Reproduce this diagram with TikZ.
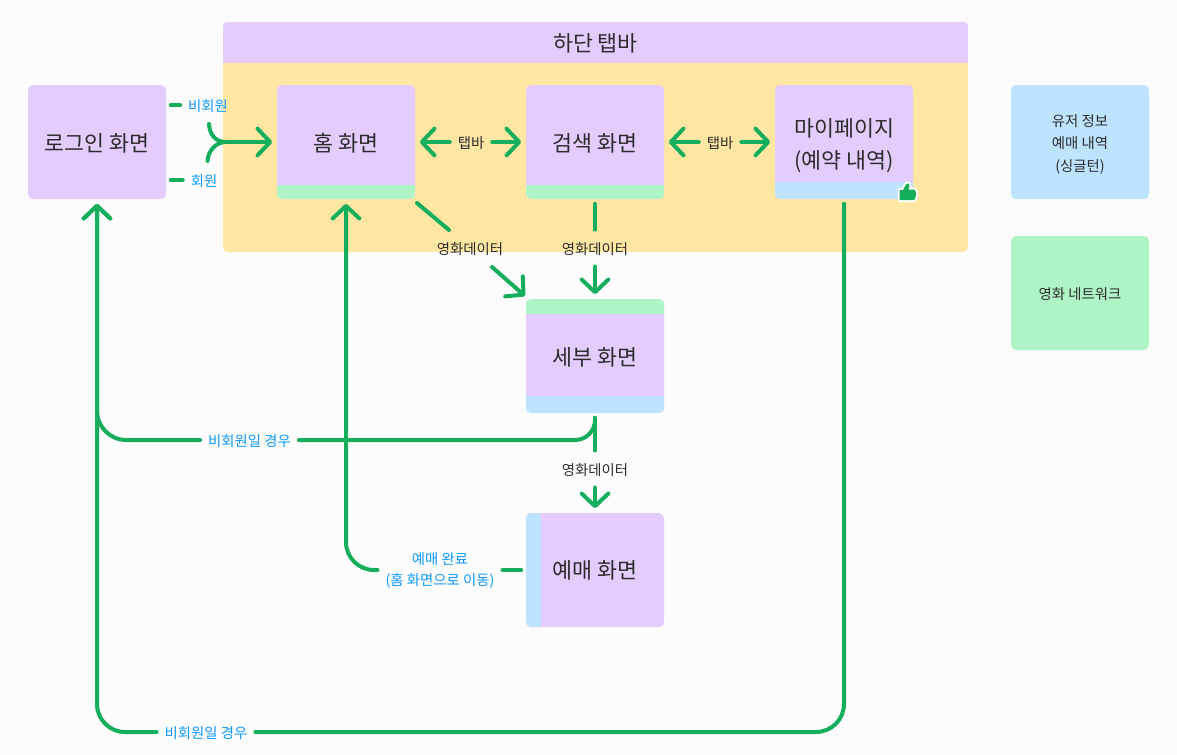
\documentclass[tikz,border=0pt]{standalone}
\usepackage{fontspec}
\setmainfont{Noto Sans CJK KR}
\usetikzlibrary{arrows.meta}
\definecolor{pagebg}{HTML}{FCFCFC}
\definecolor{violetbox}{HTML}{E4CCFF}
\definecolor{yellowbox}{HTML}{FFE6A3}
\definecolor{greenbox}{HTML}{AFF4C6}
\definecolor{bluebox}{HTML}{BDE3FF}
\definecolor{flowgreen}{HTML}{14AE5C}
\definecolor{labelblue}{HTML}{0D99FF}
\definecolor{inkdark}{HTML}{2C2C2C}
\tikzset{
  % the zero-width rule sets the height of the text box, and with it the level of the text
  levelled/.style={execute at begin node={\rule{0pt}{#1}}},
  levelled/.default=1em,
  screenbox/.style={rectangle,rounded corners=3.75pt,fill=violetbox,text=inkdark,levelled=.95em,
    minimum width=103.5pt,minimum height=85.5pt,inner sep=0pt,outer sep=3.6pt,align=center,
    font=\fontsize{16.3}{24}\selectfont},
  legendbox/.style={rectangle,rounded corners=3.75pt,text=inkdark,levelled,
    minimum width=103.5pt,minimum height=85.5pt,inner sep=0pt,align=center,
    font=\fontsize{10.8}{17}\selectfont},
  flow/.style={draw=flowgreen,line width=3pt,line cap=round,line join=round,rounded corners=21pt},
  flowarrow/.style={flow,-{Straight Barb[length=9.5pt,width=20pt,round]}},
  datalabel/.style={text=inkdark,levelled,inner xsep=6pt,inner ysep=8pt,outer sep=0pt,align=center,
    font=\fontsize{10.8}{16}\selectfont},
  userlabel/.style={datalabel,text=labelblue},
}
\begin{document}
\begin{tikzpicture}[x=0.75pt,y=-0.75pt]
\useasboundingbox (0,0) rectangle (1177,754);
\fill[pagebg] (0,0) rectangle (1177,754);

% Tab bar area with its header
\fill[yellowbox,rounded corners=3.75pt] (223,22) rectangle (968,252);
\begin{scope}
  \clip[rounded corners=3pt] (223,22) rectangle (968,80);
  \fill[violetbox] (223,22) rectangle (968,63);
\end{scope}
\node[text=inkdark,levelled=.95em,inner sep=0pt,font=\fontsize{16.3}{24}\selectfont] (tabbar) at (595.5,42) {하단 탭바};

% Screens
\node[screenbox] (login)   at (97,142)  {로그인 화면};
\node[screenbox] (home)    at (346,142) {홈 화면};
\node[screenbox] (search)  at (595,142) {검색 화면};
\node[screenbox,levelled=42.4pt] (mypage)  at (844,142) {마이페이지\\(예약 내역)};
\node[screenbox] (detail)  at (595,356) {세부 화면};
\node[screenbox] (booking) at (595,570) {};

% Coloured strips on the screens
\begin{scope}
  \clip[rounded corners=3.75pt] (277,85) rectangle (415,199);
  \fill[greenbox] (277,185) rectangle (415,199);
\end{scope}
\begin{scope}
  \clip[rounded corners=3.75pt] (526,85) rectangle (664,199);
  \fill[greenbox] (526,185) rectangle (664,199);
\end{scope}
\begin{scope}
  \clip[rounded corners=3.75pt] (775,85) rectangle (913,199);
  \fill[bluebox] (775,182) rectangle (913,199);
\end{scope}
\begin{scope}
  \clip[rounded corners=3.75pt] (526,299) rectangle (664,413);
  \fill[greenbox] (526,299) rectangle (664,314);
  \fill[bluebox] (526,396) rectangle (664,413);
\end{scope}
\begin{scope}
  \clip[rounded corners=3.75pt] (526,513) rectangle (664,627);
  \fill[bluebox] (526,513) rectangle (541,627);
\end{scope}
\node[text=inkdark,levelled=.95em,inner sep=0pt,font=\fontsize{16.3}{24}\selectfont] (bookingname) at (595,569) {예매 화면};

% Thumbs-up mark
\def\thumbshape{(899.5,190) -- (903,190) -- (906,184.5) .. controls (906.5,182.5) and (909.5,183) .. (909.5,185.5)
  -- (908.5,189.5) -- (914.5,189.5) .. controls (916.5,190) and (916.5,199.5) .. (914,200)
  -- (899.5,200) -- cycle}
\draw[white,line width=3pt,line join=round,fill=white] \thumbshape;
\fill[flowgreen] \thumbshape;

% Legend
\node[legendbox,fill=bluebox,levelled=46.3pt] (userinfo) at (1080,142) {유저 정보\\예매 내역\\(싱글턴)};
\node[legendbox,fill=greenbox] (network) at (1080,293) {영화 네트워크};

% Labels
\node[userlabel] (guest)  at (208,105) {비회원};
\node[userlabel] (member) at (204,180) {회원};
\node[datalabel] (tabA) at (471,142) {탭바};
\node[datalabel] (tabB) at (720,142) {탭바};
\node[datalabel] (dataA) at (470,248) {영화데이터};
\node[datalabel] (dataB) at (595,248) {영화데이터};
\node[datalabel] (dataC) at (595,469) {영화데이터};
\node[userlabel] (guestA) at (249.5,440) {비회원일 경우};
\node[userlabel] (guestB) at (206,732) {비회원일 경우};
\node[userlabel,levelled=27pt,font=\fontsize{10.8}{15.75}\selectfont] (done) at (440,569) {예매 완료\\(홈 화면으로 이동)};

% Free ends and bends of the connectors
\coordinate (mergeTop) at (209,124);
\coordinate (mergeBottom) at (207.5,161);
\coordinate (merge) at (226,142);
\coordinate (dataAin) at (449,230);
\coordinate (dataAout) at (492,267);
\coordinate (homeCorner) at (417,203);
\coordinate (detailCorner) at (525,296);

% Login to home
\draw[flow] (login.east |- guest) -- (guest.west);
\draw[flow] (login.east |- member) -- (member.west);
\draw[flow,rounded corners=0pt] (mergeTop) .. controls (209.5,134) and (215,142) .. (merge);
\draw[flow,rounded corners=0pt] (mergeBottom) .. controls (208,152) and (215,142) .. (merge);
\draw[flowarrow] (merge) -- (home.west);

% Tab bar navigation
\draw[flowarrow] (tabA.west) -- (home.east);
\draw[flowarrow] (tabA.east) -- (search.west);
\draw[flowarrow] (tabB.west) -- (search.east);
\draw[flowarrow] (tabB.east) -- (mypage.west);

% Movie data hand-over
\draw[flow] (homeCorner) -- (dataAin);
\draw[flowarrow] (dataAout) -- (detailCorner);
\draw[flow] (search.south) -- (dataB.north);
\draw[flowarrow] (dataB.south) -- (detail.north);
\draw[flow] (detail.south) -- (dataC.north);
\draw[flowarrow] (dataC.south) -- (booking.north);

% Returns to login and home
\draw[flow,rounded corners=15pt] (detail.south) |- (guestA.east);
\draw[flowarrow,rounded corners=22pt] (guestA.west) -| (login.south);
\draw[flow] (booking.west) -- (done.east |- booking.west);
\draw[flowarrow] (done.west |- booking.west) -| (home.south);
\draw[flow] (mypage.south) |- (guestB.east);
\draw[flowarrow] (guestB.west) -| (login.south);
\end{tikzpicture}
\end{document}
